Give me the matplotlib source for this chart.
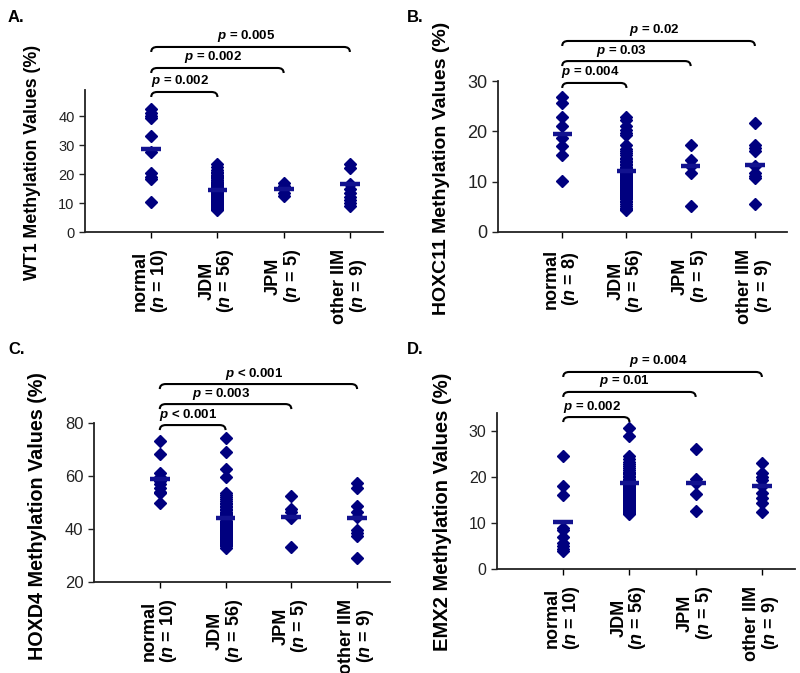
import matplotlib
matplotlib.use('Agg')
import matplotlib.pyplot as plt
from matplotlib.path import Path
from matplotlib.patches import PathPatch

plt.rcParams['font.family'] = ['Liberation Sans', 'DejaVu Sans']
plt.rcParams['mathtext.fontset'] = 'custom'
plt.rcParams['mathtext.it'] = 'Liberation Sans:italic:bold'
plt.rcParams['mathtext.rm'] = 'Liberation Sans:bold'

groups = ['normal', 'JDM', 'JPM', 'other IIM']

# ---- A. WT1
wt1_n = [10, 56, 5, 9]
wt1_normal = [42.3, 41.2, 40.0, 39.3, 33.0, 27.5, 20.5, 19.0, 18.3, 10.5]
wt1_jdm = [23.5, 22.5, 21.5, 20.8, 20.2, 19.8, 19.3, 18.9, 18.5, 18.1,
           17.8, 17.4, 17.1, 16.8, 16.5, 16.2, 15.9, 15.6, 15.4, 15.1,
           14.9, 14.7, 14.5, 14.3, 14.1, 13.9, 13.7, 13.5, 13.3, 13.1,
           12.9, 12.7, 12.5, 12.3, 12.1, 11.9, 11.7, 11.5, 11.3, 11.1,
           10.9, 10.7, 10.5, 10.3, 10.1, 9.9, 9.7, 9.5, 9.3, 9.1,
           8.9, 8.7, 8.5, 8.2, 7.9, 7.6]
wt1_jpm = [17.0, 16.0, 14.8, 13.5, 12.5]
wt1_other = [23.5, 22.2, 16.5, 15.0, 13.5, 12.0, 11.0, 10.0, 8.8]
wt1_means = [28.5, 14.5, 14.8, 16.5]
wt1_p = ['0.002', '0.002', '0.005']
wt1_sign = ['=', '=', '=']

# ---- B. HOXC11
hoxc11_n = [8, 56, 5, 9]
hoxc11_normal = [26.8, 25.7, 22.8, 21.1, 18.6, 17.0, 15.2, 10.1]
hoxc11_jdm = [22.8, 22.2, 21.1, 20.2, 19.7, 19.3, 17.2, 16.5, 16.0, 15.6,
              15.2, 14.8, 14.5, 14.2, 13.9, 13.6, 13.3, 13.0, 12.7, 12.5,
              12.2, 12.0, 11.8, 11.6, 11.4, 11.2, 11.0, 10.8, 10.6, 10.4,
              10.2, 10.0, 9.8, 9.6, 9.4, 9.2, 9.0, 8.8, 8.6, 8.4,
              8.2, 8.0, 7.8, 7.6, 7.4, 7.2, 7.0, 6.8, 6.5, 6.2,
              5.9, 5.5, 5.1, 4.8, 4.5, 4.3]
hoxc11_jpm = [17.2, 14.3, 13.2, 11.8, 5.2]
hoxc11_other = [21.7, 17.3, 16.6, 16.1, 13.2, 11.7, 11.2, 10.8, 5.6]
hoxc11_means = [19.5, 12.1, 13.2, 13.3]
hoxc11_p = ['0.004', '0.03', '0.02']
hoxc11_sign = ['=', '=', '=']

# ---- C. HOXD4
hoxd4_n = [10, 56, 5, 9]
hoxd4_normal = [73.3, 68.3, 61.3, 59.5, 58.0, 57.0, 55.5, 54.0, 53.5, 49.7]
hoxd4_jdm = [74.3, 68.9, 62.5, 59.8, 53.5, 52.8, 52.0, 51.3, 50.6, 50.0,
             49.4, 48.8, 48.2, 47.6, 47.1, 46.6, 46.1, 45.6, 45.2, 44.8,
             44.4, 44.0, 43.6, 43.2, 42.8, 42.4, 42.0, 41.6, 41.3, 41.0,
             40.7, 40.4, 40.1, 39.8, 39.5, 39.2, 38.9, 38.6, 38.3, 38.0,
             37.7, 37.4, 37.1, 36.8, 36.5, 36.2, 35.9, 35.6, 35.3, 35.0,
             34.7, 34.4, 34.1, 33.8, 33.4, 33.0]
hoxd4_jpm = [52.3, 47.6, 46.6, 44.0, 33.3]
hoxd4_other = [57.5, 55.4, 48.7, 46.6, 44.5, 39.6, 38.5, 37.5, 29.0]
hoxd4_means = [58.8, 44.0, 44.7, 44.0]
hoxd4_p = ['0.001', '0.003', '0.001']
hoxd4_sign = ['<', '=', '<']

# ---- D. EMX2
emx2_n = [10, 56, 5, 9]
emx2_normal = [24.6, 18.0, 16.1, 9.0, 8.6, 7.0, 5.7, 5.0, 4.4, 3.9]
emx2_jdm = [30.7, 29.0, 24.7, 24.0, 23.4, 22.9, 22.4, 22.0, 21.6, 21.2,
            20.9, 20.6, 20.3, 20.0, 19.7, 19.4, 19.2, 19.0, 18.8, 18.6,
            18.4, 18.2, 18.0, 17.8, 17.6, 17.4, 17.2, 17.0, 16.8, 16.6,
            16.4, 16.2, 16.0, 15.8, 15.6, 15.4, 15.2, 15.0, 14.8, 14.6,
            14.4, 14.2, 14.0, 13.8, 13.6, 13.4, 13.2, 13.0, 12.9, 12.8,
            12.7, 12.6, 12.5, 12.4, 12.2, 12.0]
emx2_jpm = [26.2, 19.6, 18.7, 16.4, 12.6]
emx2_other = [23.1, 21.0, 20.0, 19.3, 18.0, 16.6, 15.5, 14.3, 12.5]
emx2_means = [10.2, 18.8, 18.7, 18.0]
emx2_p = ['0.002', '0.01', '0.004']
emx2_sign = ['=', '=', '=']

W, H = 800, 673
fig = plt.figure(figsize=(W / 100, H / 100), dpi=100)

dot_color = '#00007f'
bar_color = '#12128f'


def px_axes(left, top, right, bottom):
    return fig.add_axes([left / W, 1 - bottom / H, (right - left) / W, (bottom - top) / H])


def bracket(ax, x1, x2, yf, text):
    tr = ax.get_xaxis_transform()
    hpx = ax.get_position().height * H
    d = 5 / hpx
    r = 0.09
    verts = [(x1, yf - d), (x1, yf), (x1 + r, yf), (x2 - r, yf), (x2, yf), (x2, yf - d)]
    codes = [Path.MOVETO, Path.CURVE3, Path.CURVE3, Path.LINETO, Path.CURVE3, Path.CURVE3]
    ax.add_patch(PathPatch(Path(verts, codes), transform=tr, fill=False,
                           lw=1.5, color='black', clip_on=False))
    ax.text((x1 + x2) / 2 - 0.07, yf + 2.5 / hpx, text, transform=tr,
            ha='center', va='bottom', fontsize=9.5, fontweight='bold')


panels = [
    dict(box=(85, 90, 383, 232), data=[wt1_normal, wt1_jdm, wt1_jpm, wt1_other],
         means=wt1_means, n=wt1_n, p=wt1_p, sign=wt1_sign, ylim=(0, 49),
         yticks=[0, 10, 20, 30, 40], tfs=10.5, ylabel='WT1 Methylation Values (%)',
         lfs=12.8, lpos=(33, 162), letter='A.', lxy=(8, 18), br=[0.986, 1.155, 1.303]),
    dict(box=(498, 81, 787, 232), data=[hoxc11_normal, hoxc11_jdm, hoxc11_jpm, hoxc11_other],
         means=hoxc11_means, n=hoxc11_n, p=hoxc11_p, sign=hoxc11_sign, ylim=(0, 30),
         yticks=[0, 10, 20, 30], tfs=13, ylabel='HOXC11 Methylation Values (%)',
         lfs=14, lpos=(442, 168), letter='B.', lxy=(407, 18), br=[0.987, 1.132, 1.265]),
    dict(box=(94, 423, 390, 582), data=[hoxd4_normal, hoxd4_jdm, hoxd4_jpm, hoxd4_other],
         means=hoxd4_means, n=hoxd4_n, p=hoxd4_p, sign=hoxd4_sign, ylim=(20, 80),
         yticks=[20, 40, 60, 80], tfs=12, ylabel='HOXD4 Methylation Values (%)',
         lfs=14.2, lpos=(38, 516), letter='C.', lxy=(8, 350), br=[0.987, 1.119, 1.245]),
    dict(box=(497, 413, 795, 569), data=[emx2_normal, emx2_jdm, emx2_jpm, emx2_other],
         means=emx2_means, n=emx2_n, p=emx2_p, sign=emx2_sign, ylim=(0, 34),
         yticks=[0, 10, 20, 30], tfs=11.5, ylabel='EMX2 Methylation Values (%)',
         lfs=14.5, lpos=(442, 512), letter='D.', lxy=(407, 350), br=[0.974, 1.135, 1.263]),
]

for pn in panels:
    ax = px_axes(*pn['box'])
    for i, vals in enumerate(pn['data']):
        x = i + 1
        ax.plot([x] * len(vals), vals, 'D', color=dot_color, ms=5.8, mec=dot_color,
                clip_on=False, zorder=3)
        ax.plot([x - 0.15, x + 0.15], [pn['means'][i]] * 2, color=bar_color, lw=3.2,
                solid_capstyle='butt', zorder=4)
    ax.set_xlim(0, 4.5)
    ax.set_ylim(*pn['ylim'])
    ax.set_yticks(pn['yticks'])
    ax.set_xticks([1, 2, 3, 4])
    ax.set_xticklabels([f'{g}\n($n$ = {n})' for g, n in zip(groups, pn['n'])],
                       rotation=90, fontsize=13, fontweight='bold',
                       linespacing=1.0, multialignment='center')
    ax.tick_params(axis='y', labelsize=pn['tfs'], length=4, width=1, colors='#222222')
    ax.tick_params(axis='x', length=4, width=1, pad=8)
    for s in ['top', 'right']:
        ax.spines[s].set_visible(False)
    for s in ['left', 'bottom']:
        ax.spines[s].set_linewidth(1.3)
        ax.spines[s].set_color('#222222')
    for k, x2 in enumerate([2, 3, 4]):
        bracket(ax, 1, x2, pn['br'][k], f"$p$ {pn['sign'][k]} {pn['p'][k]}")
    fig.text(pn['lpos'][0] / W, 1 - pn['lpos'][1] / H, pn['ylabel'], rotation=90,
             ha='center', va='center', fontsize=pn['lfs'], fontweight='bold')
    fig.text(pn['lxy'][0] / W, 1 - pn['lxy'][1] / H, pn['letter'], ha='left',
             va='center', fontsize=12, fontweight='bold')

fig.savefig('out.png', dpi=100)
